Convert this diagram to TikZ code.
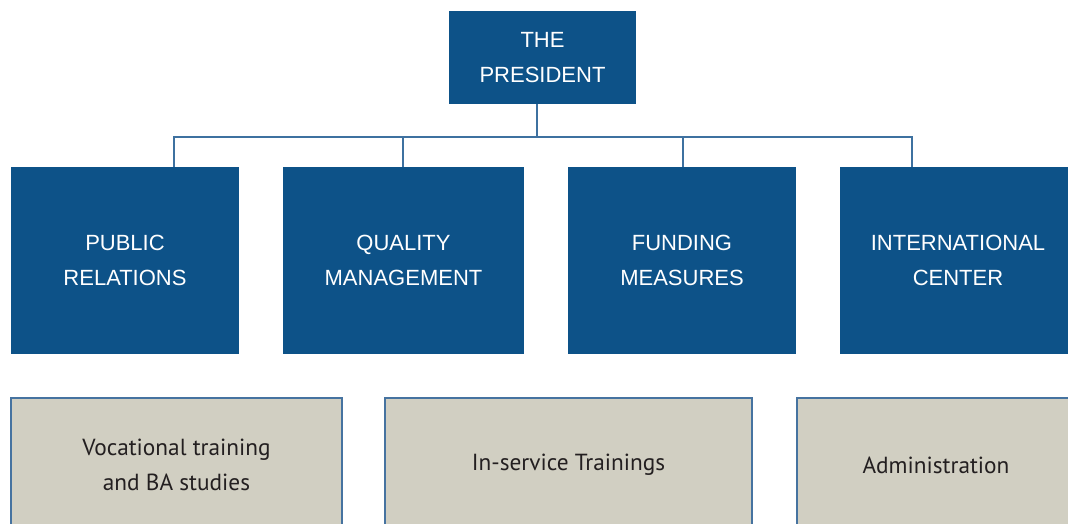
\documentclass[tikz,border=0pt]{standalone}
\usepackage{fontspec}
\setmainfont{Liberation Sans}
\newfontfamily\grayfont{PT Sans}
\usepackage{tikz}
\usetikzlibrary{positioning}
\definecolor{unitblue}{RGB}{13,82,136}
\definecolor{linkblue}{RGB}{62,113,160}
\definecolor{paper}{RGB}{209,207,194}
\definecolor{edgeblue}{RGB}{70,115,160}
\definecolor{ink}{RGB}{35,31,32}
\tikzstyle{head} = [rectangle, fill = unitblue, text = white, inner sep = 0pt, outer sep = 0pt, minimum height = 187pt, align = center, font = \fontsize{22}{35}\selectfont]
\tikzstyle{office} = [rectangle, fill = paper, draw = edgeblue, line width = 1.2pt, text = ink, inner sep = 0pt, outer sep = 0pt, minimum height = 134pt, align = center, font = \grayfont\fontsize{23.3}{35}\selectfont]
\tikzstyle{link} = [draw = linkblue, line width = 1.5pt]

\begin{document}
\begin{tikzpicture}[x = 1pt, y = 1pt]
      \useasboundingbox (0,0) rectangle (1068,-524);
      \clip (0,0) rectangle (1068,-524);

      \node[head, minimum width = 187pt, minimum height = 93pt] (pres) at (542.5,-57.5) {THE\\PRESIDENT};

      \node[head, minimum width = 228pt] (pr) at (125,-260.5) {PUBLIC\\RELATIONS};
      \node[head, minimum width = 241pt] (qm) at (403.5,-260.5) {QUALITY\\MANAGEMENT};
      \node[head, minimum width = 228pt] (fm) at (682,-260.5) {FUNDING\\MEASURES};
      \node[head, minimum width = 236pt] (ic) at (958,-260.5) {INTERNATIONAL\\CENTER};

      \node[office, minimum width = 331pt] (vt) at (176.5,-465) {Vocational training\\and BA studies};
      \node[office, minimum width = 367pt] (ist) at (568.5,-465) {In-service Trainings};
      \node[office, minimum width = 278pt] (adm) at (936,-465) {Administration};

      % tree lines
      \coordinate (bus) at (537,-137);
      \coordinate (d1) at (174,-137);
      \coordinate (d2) at (403,-137);
      \coordinate (d3) at (683,-137);
      \coordinate (d4) at (912,-137);
      \draw[link] (pres.south -| bus) -- (bus);
      \draw[link] (d1 |- pr.north) -- (d1) -- (d4) -- (d4 |- ic.north);
      \draw[link] (d2) -- (d2 |- qm.north);
      \draw[link] (d3) -- (d3 |- fm.north);
    \end{tikzpicture}
\end{document}
